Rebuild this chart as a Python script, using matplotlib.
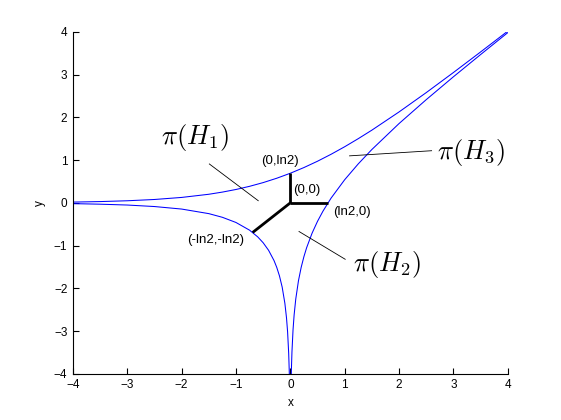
"""Amoeba of the line 1 + z + w = 0 with its spine and the three tentacle regions."""

import matplotlib
matplotlib.use('Agg')
import matplotlib.pyplot as plt

# upper boundary (tentacles going left and up-right)
upper_x = [-4, -3.5, -3, -2.5, -2, -1.5, -1.25, -1, -0.75, -0.5, -0.25, 0,
           0.25, 0.5, 0.75, 1, 1.25, 1.5, 2, 2.5, 3, 3.5, 4]
upper_y = [0.018, 0.030, 0.049, 0.079, 0.127, 0.201, 0.252, 0.313, 0.387, 0.474, 0.576, 0.693,
           0.826, 0.974, 1.137, 1.313, 1.502, 1.701, 2.127, 2.579, 3.049, 3.530, 4.018]

# lower-left boundary (goes down along x = 0)
left_x = [-4, -3.5, -3, -2.5, -2, -1.5, -1.25, -1, -0.75, -0.6, -0.5, -0.4, -0.3,
          -0.25, -0.2, -0.15, -0.1, -0.07, -0.05, -0.03, -0.02, -0.018]
left_y = [-0.018, -0.031, -0.051, -0.086, -0.145, -0.252, -0.338, -0.459, -0.639, -0.796,
          -0.933, -1.110, -1.350, -1.509, -1.708, -1.971, -2.352, -2.694, -3.021, -3.522,
          -3.922, -4.026]

# right boundary (from the bottom tentacle up to the diagonal one)
right_x = [0.018, 0.02, 0.03, 0.05, 0.07, 0.1, 0.15, 0.2, 0.25, 0.3, 0.4, 0.5, 0.6,
           0.75, 1, 1.25, 1.5, 2, 2.5, 3, 3.5, 4]
right_y = [-4.008, -3.902, -3.492, -2.971, -2.624, -2.252, -1.821, -1.508, -1.259, -1.050,
           -0.710, -0.433, -0.196, 0.111, 0.541, 0.912, 1.248, 1.855, 2.414, 2.949,
           3.469, 3.982]

# spine: from origin to the three vertices
LN2 = 0.693
spine_ends = [(0, LN2), (LN2, 0), (-LN2, -LN2)]
spine_labels = ['(0,ln2)', '(0,0)', '(ln2,0)', '(-ln2,-ln2)']
spine_label_pos = [(-0.19, 0.98), (0.05, 0.30), (0.78, -0.21), (-1.90, -0.87)]

# region labels and their pointer lines
region_labels = [r'$\pi(H_1)$', r'$\pi(H_2)$', r'$\pi(H_3)$']
region_label_pos = [(-2.38, 1.54), (1.15, -1.45), (2.69, 1.19)]
pointer_lines = [((-1.49, -0.59), (0.91, 0.05)),
                 ((0.16, 1.01), (-0.67, -1.32)),
                 ((1.09, 2.60), (1.10, 1.22))]

CURVE_COLOR = 'blue'
TICK_FONT = 8.5
NOTE_FONT = 9.5

plt.rcParams['font.family'] = ['Liberation Sans', 'DejaVu Sans']
plt.rcParams['mathtext.fontset'] = 'cm'

fig = plt.figure(figsize=(5.61, 4.2), dpi=100)
ax = fig.add_axes([0.130, 0.110, 0.775, 0.814])

ax.plot(upper_x, upper_y, color=CURVE_COLOR, lw=0.75)
ax.plot(left_x, left_y, color=CURVE_COLOR, lw=0.75)
ax.plot(right_x, right_y, color=CURVE_COLOR, lw=0.75)

for ex, ey in spine_ends:
    ax.plot([0, ex], [0, ey], color='black', lw=2, solid_capstyle='butt')

for (px, py) in pointer_lines:
    ax.plot(px, py, color='black', lw=0.6)

ax.text(spine_label_pos[0][0], spine_label_pos[0][1], spine_labels[0],
        fontsize=NOTE_FONT, ha='center', va='center')
for lbl, (tx, ty) in zip(spine_labels[1:], spine_label_pos[1:]):
    ax.text(tx, ty, lbl, fontsize=NOTE_FONT, ha='left', va='center')

for lbl, (tx, ty) in zip(region_labels, region_label_pos):
    ax.text(tx, ty, lbl, fontsize=19, ha='left', va='center')

ax.set_xlim(-4, 4)
ax.set_ylim(-4, 4)
ax.set_xticks(range(-4, 5))
ax.set_yticks(range(-4, 5))
ax.tick_params(direction='in', length=4, width=0.8, labelsize=TICK_FONT, pad=4)
ax.spines['top'].set_visible(False)
ax.spines['right'].set_visible(False)
for s in ('left', 'bottom'):
    ax.spines[s].set_linewidth(0.8)
ax.set_xlabel('x', fontsize=TICK_FONT, labelpad=4)
ax.set_ylabel('y', fontsize=TICK_FONT, labelpad=6)

fig.savefig('out.png', dpi=100)
